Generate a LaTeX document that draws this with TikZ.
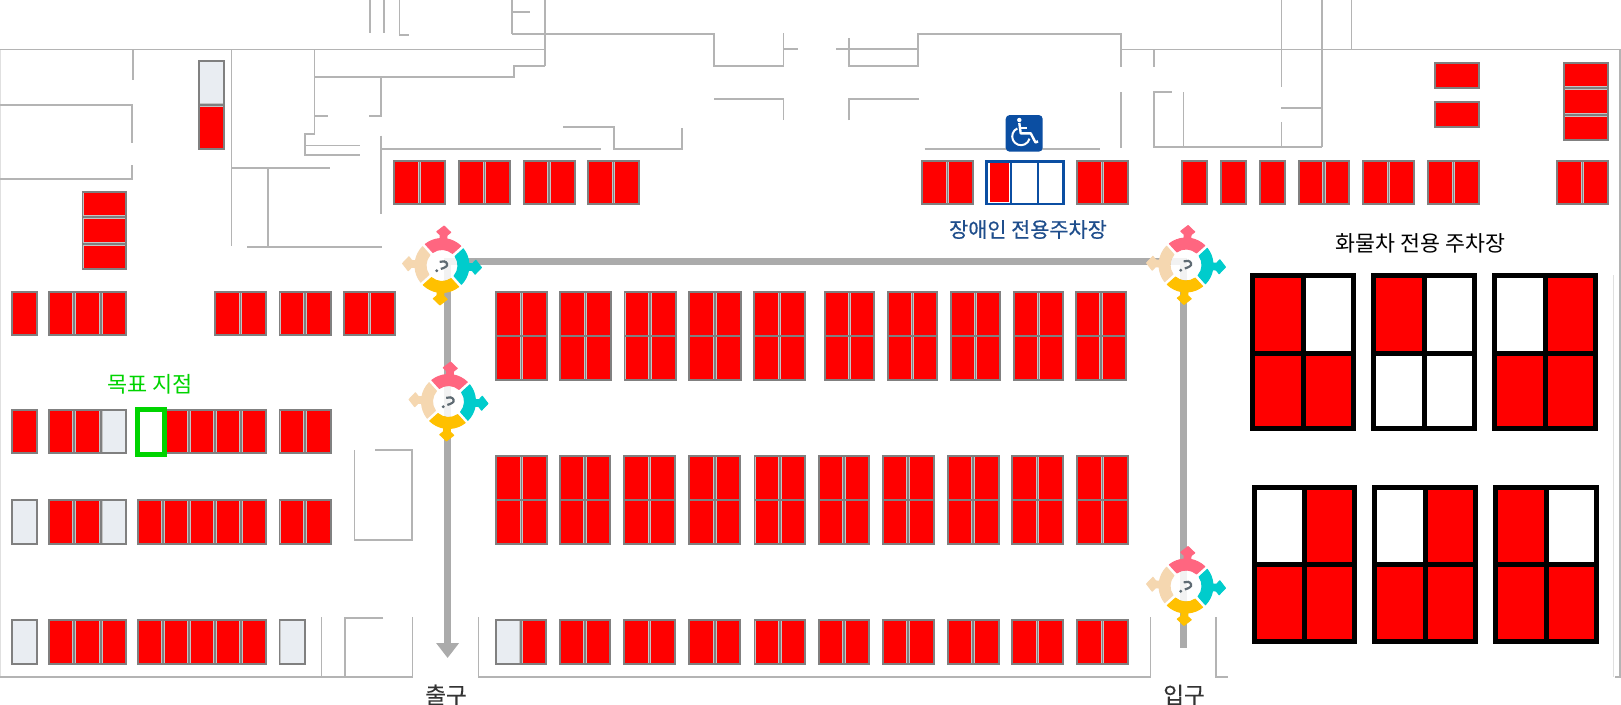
\documentclass[tikz,border=0pt]{standalone}
\usepackage{fontspec}
\newfontfamily\krfont{Noto Sans CJK KR}
\newfontfamily\krmed[FakeBold=0.35]{Noto Sans CJK KR}
\usetikzlibrary{arrows.meta}
\definecolor{pr}{HTML}{FF0000}
\definecolor{pg}{HTML}{E9EDF2}
\definecolor{pw}{HTML}{FFFFFF}
\definecolor{wallc}{HTML}{B4B4B4}
\definecolor{routec}{HTML}{ABABAB}
\definecolor{edgec}{HTML}{808080}
\definecolor{liningc}{HTML}{C4C4C4}
\definecolor{navy}{HTML}{0B4EA2}
\definecolor{navytext}{HTML}{1F4E8C}
\definecolor{goalc}{HTML}{00D400}
\definecolor{ipink}{HTML}{FF6680}
\definecolor{icyan}{HTML}{00CCCC}
\definecolor{iyellow}{HTML}{FFC000}
\definecolor{ibeige}{HTML}{F5D7B0}
\definecolor{iglyph}{HTML}{5F6B73}
\tikzset{
  wall/.style={draw=wallc,line width=1.5pt,line cap=butt,line join=miter},
  softwall/.style={draw=black!12,line width=1.2pt},
  route/.style={draw=routec,line width=7pt,line join=miter},
  slotedge/.style={draw=edgec,line width=1.8pt},
  truckedge/.style={draw=black,line width=5pt},
  label/.style={inner sep=0pt,anchor=center},
  paricon/.pic={
    \begin{scope}[y=1pt,rotate=-3]
      \fill[white,opacity=.85] (0,0) circle (15.5);
      \foreach \ang/\col in {0/ipink,-90/icyan,180/iyellow,90/ibeige}{
        \begin{scope}[rotate=\ang]
          \path[fill=\col,draw=\col,line width=1pt,line join=round]
            (52:16) arc[start angle=52,end angle=128,radius=16]
            -- (131:27) arc[start angle=131,end angle=97,radius=27]
            -- (-3.5,30.5) -- (-7,33.5) -- (0,39.5) -- (7,33.5) -- (3.5,30.5)
            -- (3.3,26.8) arc[start angle=83,end angle=49,radius=27] -- cycle;
        \end{scope}
      }
      \draw[iglyph,line width=2.2pt] (-1,-3.5) .. controls (3,-2) and (6,-.5) .. (5,2) .. controls (4,4.5) and (0,5) .. (-2.5,3.5);
      \fill[iglyph] (-5,-5.5) circle (1.6);
    \end{scope}
  }
}
% horizontal block: x0,y0,x1,y1,cell colours
\newcommand{\rowblk}[5]{%
  \foreach \c [count=\n] in {#5}{\global\let\cellN\n}%
  \pgfmathsetmacro\cw{(#3-#1)/\cellN}%
  \foreach \c [count=\i] in {#5}{%
    \pgfmathsetmacro\xa{#1+(\i-1)*\cw}%
    \pgfmathsetmacro\xb{\xa+\cw}%
    \fill[liningc] (\xa,#2) rectangle (\xb,#4);
    \fill[fill=\c] (\xa+1.9,#2+1.9) rectangle (\xb-1.9,#4-1.9);
    \ifnum\i>1 \draw[slotedge] (\xa,#2) -- (\xa,#4);\fi
  }%
  \draw[slotedge] (#1+.8,#2+.8) rectangle (#3-.8,#4-.8);
}
% vertical block: x0,y0,x1,y1,cell colours
\newcommand{\colblk}[5]{%
  \foreach \c [count=\n] in {#5}{\global\let\cellN\n}%
  \pgfmathsetmacro\cw{(#4-#2)/\cellN}%
  \foreach \c [count=\i] in {#5}{%
    \pgfmathsetmacro\ya{#2+(\i-1)*\cw}%
    \pgfmathsetmacro\yb{\ya+\cw}%
    \fill[liningc] (#1,\ya) rectangle (#3,\yb);
    \fill[fill=\c] (#1+1.9,\ya+1.9) rectangle (#3-1.9,\yb-1.9);
    \ifnum\i>1 \draw[slotedge] (#1,\ya) -- (#3,\ya);\fi
  }%
  \draw[slotedge] (#1+.8,#2+.8) rectangle (#3-.8,#4-.8);
}
% two rows sharing one separator: x0,x1,y0,ymid,y1
\newcommand{\gridblk}[5]{%
  \rowblk{#1}{#3}{#2}{#4+.8}{pr,pr}%
  \rowblk{#1}{#4-.8}{#2}{#5}{pr,pr}%
}
% truck block: x0,x1,y0,ymid,y1, colours a,b,c,d
\newcommand{\truck}[9]{%
  \fill[fill=#6] (#1,#3) rectangle ({(#1+#2)/2},#4);
  \fill[fill=#7] ({(#1+#2)/2},#3) rectangle (#2,#4);
  \fill[fill=#8] (#1,#4) rectangle ({(#1+#2)/2},#5);
  \fill[fill=#9] ({(#1+#2)/2},#4) rectangle (#2,#5);
  \draw[truckedge] (#1,#3) rectangle (#2,#5);
  \draw[truckedge] ({(#1+#2)/2},#3) -- ({(#1+#2)/2},#5);
  \draw[truckedge] (#1,#4) -- (#2,#4);
}
\begin{document}
\begin{tikzpicture}[x=1pt,y=-1pt]
\useasboundingbox (0,0) rectangle (1621,704);
\fill[white] (0,0) rectangle (1621,704);
% outer walls
\draw[softwall] (0.6,49) -- (0.6,677);
\draw[wall] (1620,49) -- (1620,677) -- (1615,677);
\draw[softwall] (1613.5,275) -- (1613.5,677);
\draw[wall] (0,49.3) -- (545,49.3);
\draw[wall] (1121,49.3) -- (1620,49.3);
\draw[wall] (0,677) -- (412.5,677) -- (412.5,617);
\draw[wall] (321.6,617) -- (321.6,677);
\draw[wall] (383,618) -- (345,618) -- (345,677);
\draw[wall] (478.6,617) -- (478.6,677) -- (1150.7,677) -- (1150.7,617);
\draw[wall] (1216,617) -- (1216,677) -- (1228,677);
% upper walls, left
\draw[wall] (133,49) -- (133,80);
\draw[wall] (0,105) -- (132,105) -- (132,143);
\draw[wall] (132,165) -- (132,179) -- (0,179);
\draw[wall] (231.4,49) -- (231.4,246);
\draw[wall] (231.4,168) -- (330,168);
\draw[wall] (268,168) -- (268,247);
\draw[wall] (247,247) -- (381.5,247);
\draw[wall] (314.4,49) -- (314.4,134) -- (305,134) -- (305,155) -- (359.5,155);
\draw[wall] (305,145.7) -- (359.5,145.7);
\draw[wall] (314.4,116) -- (328,116);
\draw[wall] (314.4,77) -- (514,77) -- (514,66) -- (545,66);
\draw[wall] (381,77) -- (381,116) -- (369,116);
\draw[wall] (381,135.7) -- (381,214);
\draw[wall] (381,149) -- (601,149);
\draw[wall] (563,127) -- (614,127) -- (614,149) -- (682,149) -- (682,128);
\draw[wall] (370,0) -- (370,33);
\draw[wall] (384,0) -- (384,33);
\draw[wall] (399.5,0) -- (399.5,35) -- (409,35);
\draw[wall] (512,0) -- (512,34);
\draw[wall] (512,12) -- (530,12);
\draw[wall] (512,34) -- (714,34) -- (714,66) -- (783.5,66) -- (783.5,33);
\draw[wall] (545,0) -- (545,66);
\draw[wall] (783.5,49) -- (798,49);
\draw[wall] (714,99) -- (783.5,99) -- (783.5,120);
\draw[wall] (849,120) -- (849,99) -- (919,99);
\draw[wall] (836,49) -- (918,49);
\draw[wall] (849,38) -- (849,66) -- (918,66) -- (918,34) -- (1121,34) -- (1121,67);
\draw[wall] (924.6,149) -- (1100,149);
% upper walls, right
\draw[wall] (1121,92) -- (1121,148);
\draw[wall] (1154,49) -- (1154,67);
\draw[wall] (1171.5,92) -- (1154,92) -- (1154,147) -- (1322,147);
\draw[wall] (1183.5,92) -- (1183.5,147);
\draw[wall] (1281.5,0) -- (1281.5,87);
\draw[wall] (1281.5,122) -- (1281.5,147);
\draw[wall] (1322,0) -- (1322,147);
\draw[wall] (1281,108) -- (1322,108);
\draw[wall] (1351.6,0) -- (1351.6,49);
% lower-left room
\draw[wall] (354.7,450) -- (354.7,540) -- (412,540) -- (412,450) -- (374.7,450);
% routes
\coordinate (exitpt) at (447.6,658);
\coordinate (cornerl) at (447.6,261);
\coordinate (cornerr) at (1183,261);
\coordinate (entrypt) at (1183,648);
\draw[route,{Triangle[width=22pt,length=15pt,fill=routec]}-] (exitpt) -- (cornerl) -- (cornerr) -- (entrypt);
% top row
\foreach \a/\b in {393/446,458/511,523/575.5,587/640,921/974,1076/1129,1298/1350,1362/1415,1427/1480,1556/1609}
  {\rowblk{\a}{160}{\b}{205}{pr,pr}}
\foreach \a/\b in {1181.5/1208,1220/1247,1259/1286}
  {\rowblk{\a}{160}{\b}{205}{pr}}
% top-right and left stacks
\colblk{1434}{62}{1480}{89}{pr}
\colblk{1434}{101}{1480}{128}{pr}
\colblk{1563.4}{62}{1609}{141}{pr,pr,pr}
\colblk{198}{60}{224.5}{150}{pg,pr}
\colblk{81.6}{191}{127}{270}{pr,pr,pr}
% left rows
\rowblk{11.4}{291}{38}{336}{pr}
\rowblk{48}{291}{127}{336}{pr,pr,pr}
\rowblk{214}{291}{267}{336}{pr,pr}
\rowblk{278.6}{291}{331.6}{336}{pr,pr}
\rowblk{343}{291}{396}{336}{pr,pr}
\rowblk{11.4}{409}{38}{454}{pr}
\rowblk{48}{409}{127}{454}{pr,pr,pg}
\rowblk{137}{409}{267}{454}{pw,pr,pr,pr,pr}
\rowblk{278.6}{409}{331.6}{454}{pr,pr}
\rowblk{11.4}{499}{38}{545}{pg}
\rowblk{48}{499}{127}{545}{pr,pr,pg}
\rowblk{137}{499}{267}{545}{pr,pr,pr,pr,pr}
\rowblk{278.6}{499}{331.6}{545}{pr,pr}
\rowblk{11.4}{619}{38}{665}{pg}
\rowblk{48}{619}{127}{665}{pr,pr,pr}
\rowblk{137}{619}{267}{665}{pr,pr,pr,pr,pr}
\rowblk{278.6}{619}{306}{665}{pg}
% goal slot
\fill[white] (137.5,409.5) rectangle (164.5,454.5);
\draw[draw=goalc,line width=5pt] (137.5,409.5) rectangle (164.5,454.5);
% central grid, upper
\foreach \a/\b in {495/548,559/612,623.7/676.7,688/741.5,753/806,824/875,887/938,950/1001,1013/1064,1075.5/1127}
  {\gridblk{\a}{\b}{291}{336}{381}}
% central grid, lower
\foreach \a/\b in {495/548,559/611,623/676,688.5/741,753.6/806,818/870,882/934.5,947/999.7,1011/1064,1076/1129}
  {\gridblk{\a}{\b}{455}{500}{545}}
% bottom row
\rowblk{495}{619}{547}{665}{pg,pr}
\foreach \a/\b in {559/611,623/676,688.5/741,753.6/806,818/870,882/934.5,947/999.7,1011/1064,1076/1129}
  {\rowblk{\a}{619}{\b}{665}{pr,pr}}
% accessible block
\fill[pr] (990.4,163) rectangle (1009.4,201.7);
\draw[draw=navy,line width=2.6pt] (986.2,161.2) rectangle (1063.3,203.8);
\draw[draw=navy,line width=2.6pt] (1011,161.2) -- (1011,203.8);
\draw[draw=navy,line width=2.6pt] (1038,161.2) -- (1038,203.8);
% wheelchair sign
\fill[navy,rounded corners=4pt] (1005.7,115) rectangle (1042.7,151.7);
\fill[white] (1019.3,120) circle (2.2);
\draw[white,line width=2.4pt,line join=round] (1019.3,123) -- (1020.7,133.3) -- (1030.7,133.3) -- (1035.5,142.5) -- (1038,141.3);
\draw[white,line width=2pt] (1020,127.7) -- (1026.7,127.7);
\draw[white,line width=2pt] ([shift={(245:8.8)}]1021,136.4) arc[start angle=245,end angle=15,radius=8.8];
% truck blocks
\truck{1252.5}{1353.5}{275.5}{353.6}{428.5}{pr}{pw}{pr}{pr}
\truck{1373.5}{1474.5}{275.5}{353.6}{428.5}{pr}{pw}{pw}{pw}
\truck{1494.5}{1595.5}{275.5}{353.6}{428.5}{pw}{pr}{pr}{pr}
\truck{1254}{1354.5}{487.5}{564}{641.2}{pw}{pr}{pr}{pr}
\truck{1374.5}{1475.5}{487.5}{564}{641.2}{pw}{pr}{pr}{pr}
\truck{1495.5}{1596.5}{487.5}{564}{641.2}{pr}{pw}{pr}{pr}
% level icons
\pic at (442,265.5) {paricon};
\pic at (448.5,401.5) {paricon};
\pic at (1186,265) {paricon};
\pic at (1186,586) {paricon};
% labels
\node[label,text=navytext,font=\krmed\fontsize{20.8}{22}\selectfont] (lbla) at (1028,229.5) {장애인 전용주차장};
\node[label,text=black,font=\krfont\fontsize{21.7}{22}\selectfont] (lblb) at (1420.5,243) {화물차 전용 주차장};
\node[label,text=goalc,font=\krfont\fontsize{21.9}{22}\selectfont] (lblc) at (150,384.5) {목표 지점};
\node[label,text=black!80,font=\krmed\fontsize{22.6}{22}\selectfont] (lbld) at (446,695) {출구};
\node[label,text=black!80,font=\krmed\fontsize{22.6}{22}\selectfont] (lble) at (1184,695) {입구};
\end{tikzpicture}
\end{document}
